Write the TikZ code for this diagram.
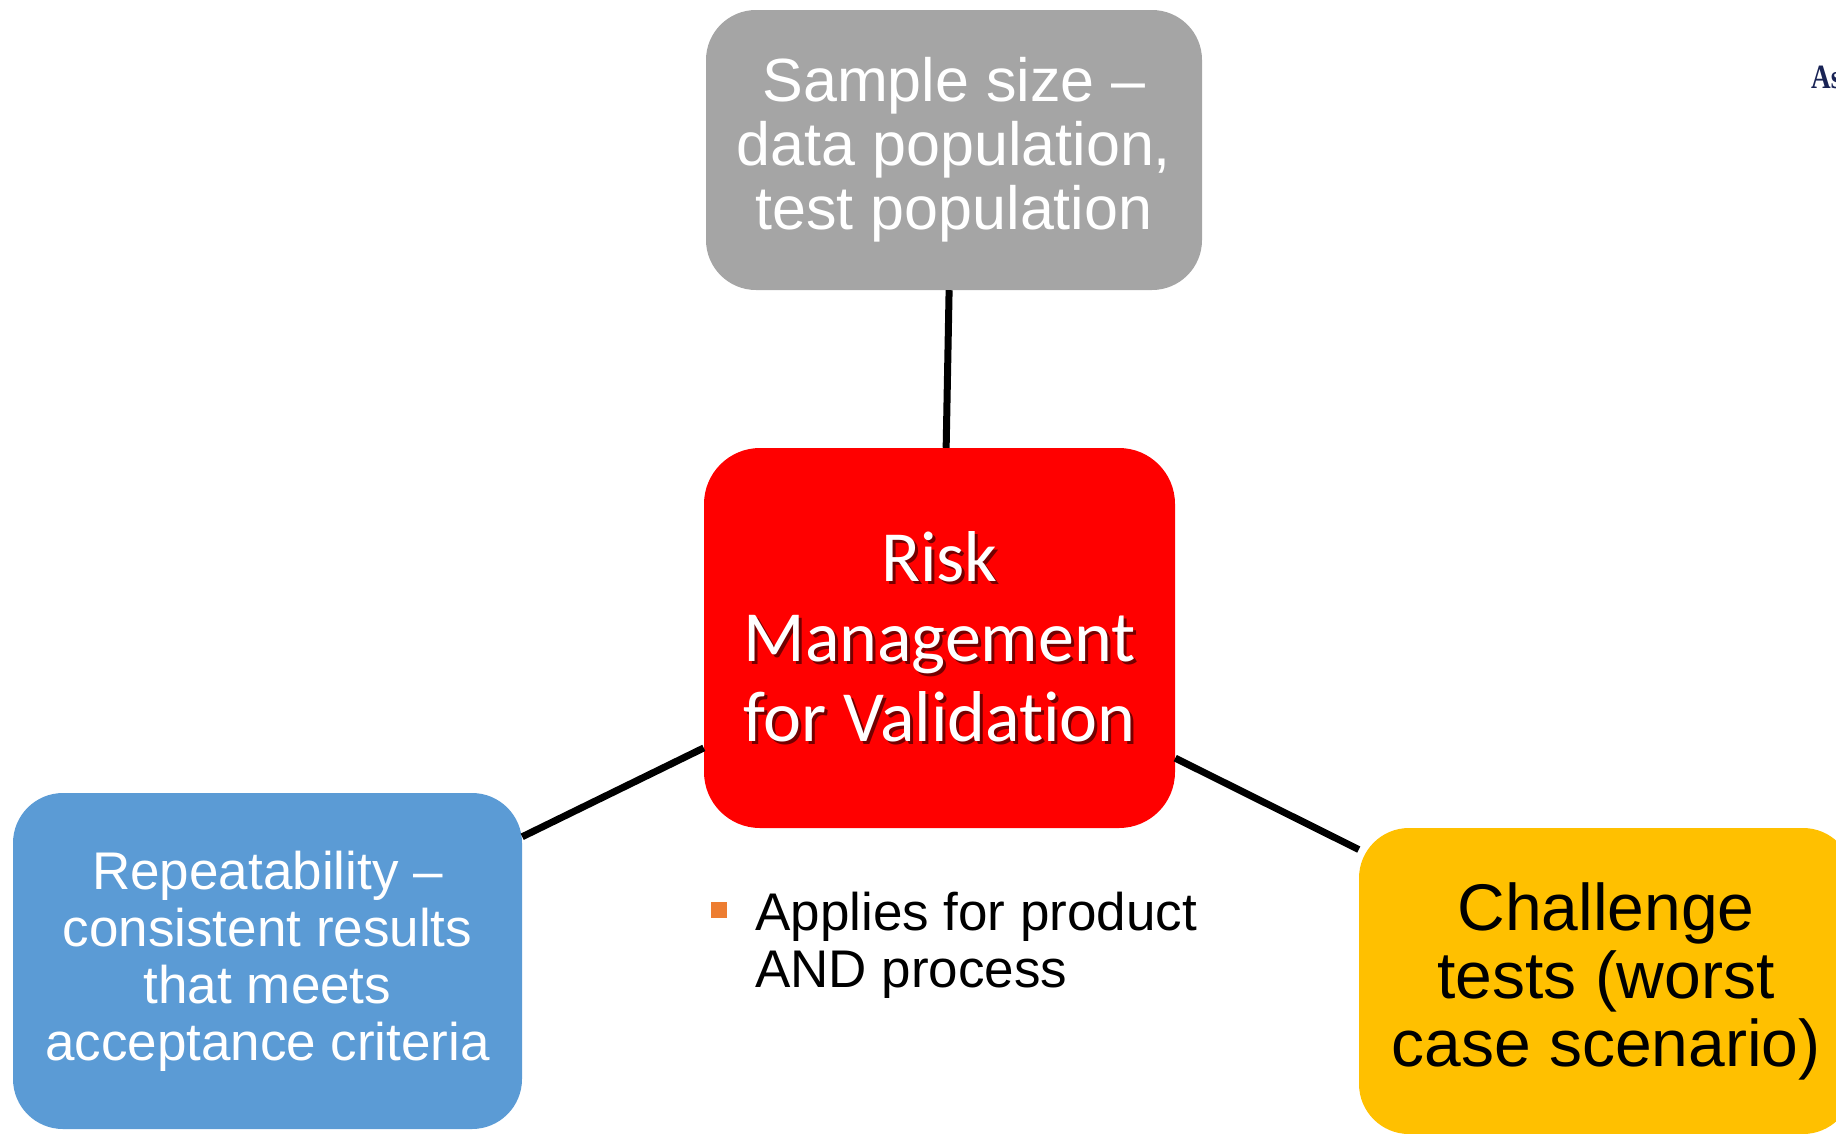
\documentclass[tikz,border=0pt]{standalone}
\usepackage{fontspec}
\setmainfont{Liberation Sans}
\newfontfamily\calibrif[Ligatures=NoCommon]{Carlito}
\newfontfamily\timesf{Liberation Serif}
\definecolor{boxgray}{HTML}{A5A5A5}
\definecolor{boxred}{HTML}{FF0000}
\definecolor{boxblue}{HTML}{5B9BD5}
\definecolor{boxyellow}{HTML}{FFC000}
\definecolor{bulletorange}{HTML}{ED7D31}
\definecolor{navytext}{RGB}{25,35,85}
\newcommand\shd[1]{\makebox[0pt][l]{\raisebox{-3pt}{\hspace{3pt}\textcolor{red!45!black}{#1}}}#1}
\tikzset{
  topic/.style={rounded corners=50pt, inner sep=0pt, align=center, text=white},
  link/.style={line width=7pt, draw=black},
}
\begin{document}
\begin{tikzpicture}[x=1pt,y=-1pt]
\useasboundingbox (0,0) rectangle (1836,1133);
\clip (0,0) rectangle (1836,1133);
\node[topic, fill=boxgray, minimum width=496pt, minimum height=280pt,
      font=\fontsize{61}{64}\selectfont] (gray) at (954,150)
  {Sample size --\\data population,\\test population};
\node[topic, fill=boxred, rounded corners=56pt, minimum width=471pt, minimum height=380pt,
      font=\calibrif\fontsize{72}{80}\selectfont] (red) at (939.5,638)
  {\shd{Risk}\\\shd{Management}\\\shd{for Validation}};
\node[topic, fill=boxblue, minimum width=509pt, minimum height=336pt,
      font=\fontsize{53}{57}\selectfont] (blue) at (267.5,961)
  {Repeatability --\\consistent results\\that meets\\acceptance criteria};
\node[topic, fill=boxyellow, text=black, minimum width=494pt, minimum height=306pt,
      font=\fontsize{66}{68}\selectfont] (yellow) at (1606,981)
  {Challenge\\tests (worst\\case scenario)};
\node[fill=bulletorange, minimum size=16pt, inner sep=0pt] (bullet) at (719,909.5) {};
\node[anchor=base west, inner sep=0pt, align=left, font=\fontsize{53}{57}\selectfont] (note) at (755,987)
  {Applies for product\\AND process};
\node[anchor=base west, inner sep=0pt, text=navytext, font=\timesf\bfseries\fontsize{34}{38}\selectfont] (as) at (1811,88) {\scalebox{0.8}[1]{As}};
\draw[link] (gray.268.4) -- (red.88.2);
\draw[link] (blue.26.0) -- (red.205.8);
\draw[link] (red.-27.8) -- (yellow.152.8);
\end{tikzpicture}
\end{document}
